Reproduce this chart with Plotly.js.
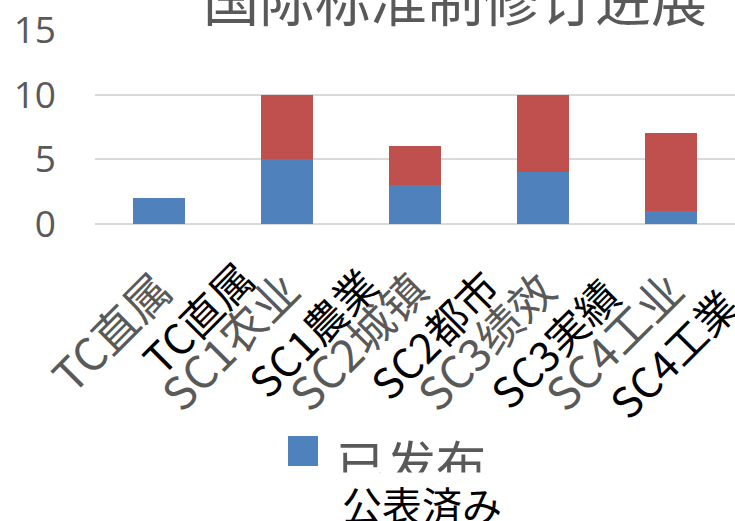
<!DOCTYPE html>
<html>
<head>
<meta charset="utf-8">
<script src="https://cdn.plot.ly/plotly-3.0.1.min.js"></script>
<style>html,body{margin:0;padding:0;background:#fff;overflow:hidden}#chart{width:735px;height:521px}</style>
</head>
<body>
<div id="chart"></div>
<script>
// ---- data ----
const categories = ['TC直属', 'SC1农业', 'SC2城镇', 'SC3绩效', 'SC4工业'];
const jaLabels = ['TC直属', 'SC1農業', 'SC2都市', 'SC3実績', 'SC4工業'];
const published = [2, 5, 3, 4, 1];
const inProgress = [0, 5, 3, 6, 6];
const seriesNames = ['已发布', '在研'];
const titleText = '国际标准制修订进展';
const legendJa = '公表済み';
const yTicks = [0, 5, 10, 15];

// ---- layout helpers (pixel -> paper) ----
const W = 735, H = 521;
const M = {l: 95, r: 0, t: 30, b: 297};
const PW = W - M.l - M.r, PH = H - M.t - M.b;
const px2x = p => (p - M.l) / PW;
const py2y = p => (H - M.b - p) / PH;

// placement of the overlaid Japanese tick labels
const jaShiftX = [110, 105, 99, 91, 82];
const jaShiftY = [-20, -27, -29, -38, -48];

const gray = '#595959';

const traces = [
  {type: 'bar', x: categories, y: published, name: seriesNames[0],
   marker: {color: '#4F81BD', line: {width: 0}}, showlegend: false},
  {type: 'bar', x: categories, y: inProgress, name: seriesNames[1],
   marker: {color: '#C0504D', line: {width: 0}}, showlegend: false}
];

const annotations = [];
jaLabels.forEach((t, i) => {
  annotations.push({
    text: t, xref: 'x', x: categories[i], yref: 'paper', y: 0,
    xanchor: 'right', yanchor: 'top', xshift: jaShiftX[i], yshift: jaShiftY[i],
    textangle: -45, showarrow: false,
    font: {family: 'Noto Sans CJK JP', size: 42, color: '#000'}
  });
});
// title (partly cut by the top edge)
annotations.push({
  text: titleText, xref: 'paper', x: px2x(201), xanchor: 'left',
  yref: 'paper', y: py2y(-3), yanchor: 'middle', showarrow: false,
  font: {family: 'Noto Sans CJK SC', size: 56, color: gray}
});
// legend text
annotations.push({
  text: seriesNames[0], xref: 'paper', x: px2x(334), xanchor: 'left',
  yref: 'paper', y: py2y(461), yanchor: 'middle', showarrow: false,
  font: {family: 'Noto Sans CJK SC', size: 50, color: gray}
});
// Japanese legend overlay
annotations.push({
  text: legendJa, xref: 'paper', x: px2x(422), xanchor: 'center',
  yref: 'paper', y: py2y(504), yanchor: 'middle', showarrow: false,
  bgcolor: '#fff', borderpad: 2,
  font: {family: 'Noto Sans CJK JP', size: 40, color: '#000'}
});

const layout = {
  width: W, height: H,
  margin: M,
  paper_bgcolor: '#fff', plot_bgcolor: '#fff',
  barmode: 'stack', bargap: 0.6,
  showlegend: false,
  xaxis: {
    type: 'category', range: [-0.5, categories.length - 0.5], autorange: false,
    tickangle: -45, showgrid: false, showline: false, zeroline: false,
    ticks: '', ticklabelstandoff: 30,
    tickfont: {family: 'Noto Sans CJK SC', size: 45, color: gray}
  },
  yaxis: {
    range: [0, 15], autorange: false, tickvals: yTicks, showgrid: true, gridcolor: '#D9D9D9', gridwidth: 2,
    zeroline: true, zerolinecolor: '#D9D9D9', zerolinewidth: 2, showline: false,
    ticks: '', ticklabelstandoff: 38,
    tickfont: {family: 'Open Sans', size: 37, color: gray}
  },
  shapes: [{
    type: 'rect', xref: 'paper', yref: 'paper',
    x0: px2x(288), x1: px2x(318), y0: py2y(466), y1: py2y(436),
    fillcolor: '#4F81BD', line: {width: 0}
  }],
  annotations: annotations
};

Plotly.newPlot('chart', traces, layout, {displayModeBar: false, staticPlot: true});
</script>
</body>
</html>
